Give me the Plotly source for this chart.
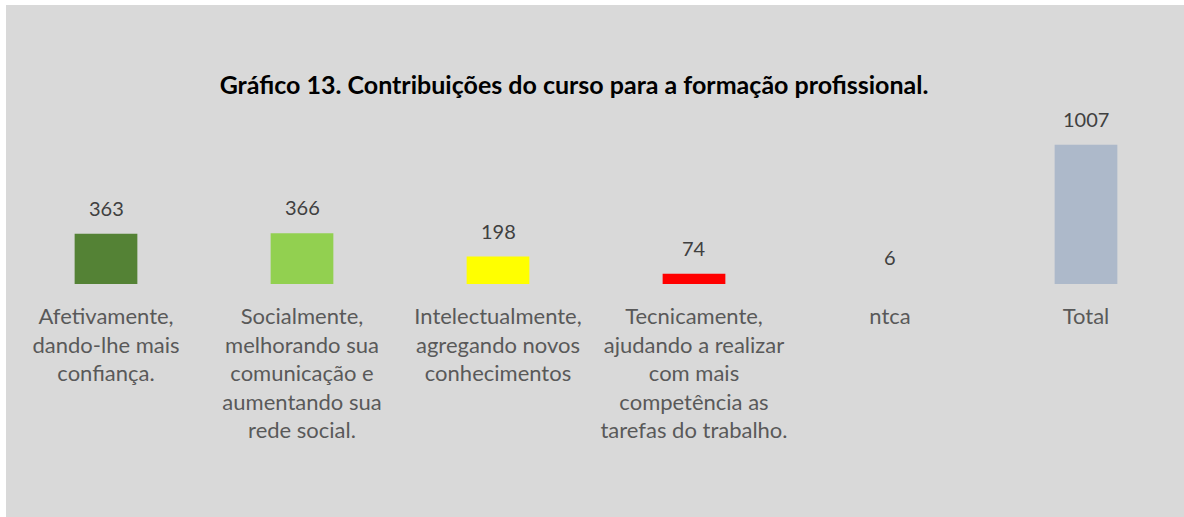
import plotly.graph_objects as go

# --- dados ---
categorias = [
    "Afetivamente,<br>dando-lhe mais<br>confiança.",
    "Socialmente,<br>melhorando sua<br>comunicação e<br>aumentando sua<br>rede social.",
    "Intelectualmente,<br>agregando novos<br>conhecimentos",
    "Tecnicamente,<br>ajudando a realizar<br>com mais<br>competência as<br>tarefas do trabalho.",
    "ntca",
    "Total",
]
valores = [363, 366, 198, 74, 6, 1007]
cores = ["#548235", "#92d050", "#ffff00", "#ff0000", "#d9d9d9", "#adb9ca"]

titulo = "Gráfico 13. Contribuições do curso para a formação profissional."

FONTE = "Lato, 'Open Sans', sans-serif"

fig = go.Figure()

fig.add_trace(go.Bar(
    x=categorias, y=valores,
    marker=dict(color=cores, line=dict(width=0)),
    width=0.32,
    hoverinfo="x+y",
))

# rótulos de valor acima das barras
for cat, v in zip(categorias, valores):
    fig.add_annotation(
        x=cat, y=v, text=str(v), showarrow=False,
        yanchor="bottom", yshift=12,
        font=dict(family=FONTE, size=20, color="#404040"),
    )

# fundo cinza da área do gráfico (borda branca fina em cima e à esquerda)
fig.add_shape(
    type="rect", xref="paper", yref="paper",
    x0=-2 / 1176, x1=1.02, y0=-1.5, y1=279 / 166,
    fillcolor="#d9d9d9", line=dict(width=0), layer="below",
)

fig.update_layout(
    width=1184, height=517,
    margin=dict(l=8, r=0, t=118, b=233),
    paper_bgcolor="#ffffff",
    plot_bgcolor="rgba(0,0,0,0)",
    showlegend=False,
    title=dict(
        text="<b>" + titulo + "</b>",
        x=574 / 1184, xanchor="center",
        y=1 - 85 / 517, yanchor="middle",
        font=dict(family=FONTE, size=25, color="#000000"),
    ),
    xaxis=dict(
        showgrid=False, showline=False, zeroline=False, ticks="",
        tickfont=dict(family=FONTE, size=22, color="#595959"),
        ticklabelstandoff=17,
    ),
    yaxis=dict(
        range=[0, 1200], visible=False, showgrid=False, zeroline=False,
    ),
)

fig.write_html(
    "out.html",
    config={"displayModeBar": False},
    post_script="document.body.style.margin='0';document.body.style.overflow='hidden';",
)
